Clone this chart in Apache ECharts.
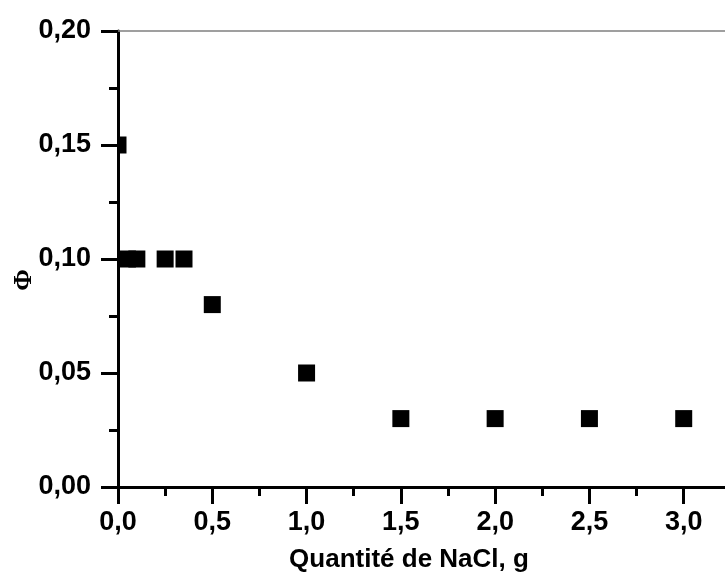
<!DOCTYPE html>
<html>
<head>
<meta charset="utf-8">
<script src="https://cdn.jsdelivr.net/npm/echarts@6/dist/echarts.min.js"></script>
<style>html,body{margin:0;padding:0;background:#fff}#c{width:725px;height:572px}</style>
</head>
<body>
<div id="c"></div>
<script>
const nacl = [0.0, 0.05, 0.1, 0.25, 0.35, 0.5, 1.0, 1.5, 2.0, 2.5, 3.0];
const phi  = [0.15, 0.10, 0.10, 0.10, 0.10, 0.08, 0.05, 0.03, 0.03, 0.03, 0.03];
const xName = 'Quantité de NaCl, g';
const yName = 'Φ';

const chart = echarts.init(document.getElementById('c'), null, {renderer: 'canvas'});
const FONT = '"Liberation Sans", Arial, sans-serif';
const SYM = 17;
chart.setOption({
  animation: false,
  backgroundColor: '#fff',
  grid: {left: 118, top: 31, width: 660, height: 456, containLabel: false, outerBoundsMode: 'none'},
  xAxis: [{
    type: 'value', min: 0, max: 3.5, interval: 0.5,
    name: xName, nameLocation: 'middle', nameGap: 60, nameMoveOverlap: false,
    nameTextStyle: {fontFamily: FONT, fontWeight: 'bold', fontSize: 26, color: '#000', padding: [0, 78, 0, 0]},
    axisLine: {show: true, onZero: false, lineStyle: {color: '#000', width: 3}},
    axisTick: {show: true, inside: false, length: 17, lineStyle: {color: '#000', width: 3}},
    minorTick: {show: true, splitNumber: 2, length: 9, lineStyle: {color: '#000', width: 3}},
    splitLine: {show: false},
    axisLabel: {margin: 22, fontFamily: FONT, fontWeight: 'bold', fontSize: 27, color: '#000',
      showMaxLabel: false,
      formatter: v => v.toFixed(1).replace('.', ',')}
  }, {
    type: 'value', min: 0, max: 3.5, position: 'top',
    axisLine: {show: true, onZero: false, lineStyle: {color: '#808080', width: 1.5}},
    axisTick: {show: false}, axisLabel: {show: false}, splitLine: {show: false}
  }],
  yAxis: [{
    type: 'value', min: 0, max: 0.2, interval: 0.05,
    name: yName, nameLocation: 'middle', nameRotate: 90, nameGap: 81, nameMoveOverlap: false,
    nameTextStyle: {fontFamily: '"Liberation Serif", "Times New Roman", serif', fontWeight: 'bold', fontSize: 26, color: '#000', padding: [0, 42, 0, 0]},
    axisLine: {show: true, onZero: false, lineStyle: {color: '#000', width: 3}},
    axisTick: {show: true, inside: false, length: 17, lineStyle: {color: '#000', width: 3}},
    minorTick: {show: true, splitNumber: 2, length: 9, lineStyle: {color: '#000', width: 3}},
    splitLine: {show: false},
    axisLabel: {margin: 27, fontFamily: FONT, fontWeight: 'bold', fontSize: 27, color: '#000',
      formatter: v => v.toFixed(2).replace('.', ',')}
  }],
  series: [{
    type: 'custom',
    coordinateSystem: 'cartesian2d',
    encode: {x: 0, y: 1},
    renderItem: function (params, api) {
      const p = api.coord([api.value(0), api.value(1)]);
      const cs = params.coordSys;
      const shape = echarts.graphic.clipRectByRect(
        {x: p[0] - SYM / 2, y: p[1] - SYM / 2, width: SYM, height: SYM},
        {x: cs.x, y: cs.y, width: cs.width, height: cs.height}
      );
      return shape && {type: 'rect', shape: shape, style: {fill: '#000'}};
    },
    data: nacl.map((x, i) => [x, phi[i]])
  }]
});
</script>
</body>
</html>
